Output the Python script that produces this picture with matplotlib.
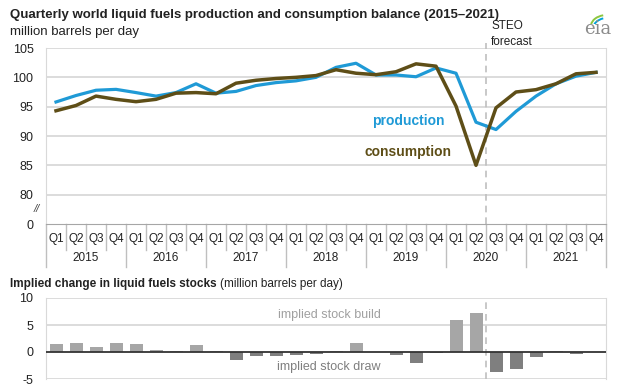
import numpy as np
import matplotlib
matplotlib.use("Agg")
import matplotlib.pyplot as plt
from matplotlib.patches import Arc

plt.rcParams['font.family'] = ['Liberation Sans', 'DejaVu Sans']
plt.rcParams['axes.unicode_minus'] = False

# data (million barrels per day)
years = ['2015', '2016', '2017', '2018', '2019', '2020', '2021']
quarters = ['Q1', 'Q2', 'Q3', 'Q4']
production = [95.8, 96.9, 97.8, 97.95, 97.4, 96.8, 97.4, 98.9,
              97.3, 97.6, 98.6, 99.1, 99.4, 100.0, 101.7, 102.4,
              100.4, 100.4, 100.1, 101.6, 100.7, 92.35, 91.1, 94.2,
              96.8, 98.9, 100.2, 100.85]
consumption = [94.3, 95.2, 96.8, 96.25, 95.85, 96.25, 97.3, 97.4,
               97.2, 99.0, 99.5, 99.8, 100.0, 100.3, 101.3, 100.7,
               100.45, 100.95, 102.3, 101.9, 95.1, 85.0, 94.8, 97.5,
               97.9, 98.9, 100.6, 100.85]
stock_change = [1.5, 1.7, 1.0, 1.7, 1.55, 0.45, 0.1, 1.35,
                0.1, -1.4, -0.8, -0.7, -0.55, -0.35, 0.25, 1.65,
                0.05, -0.55, -2.1, -0.1, 5.9, 7.2, -3.7, -3.2,
                -1.0, 0.25, -0.35, 0.05]

blue = '#1F9AD6'
brown = '#5E4E17'
grid_c = '#D9D9D9'

x = np.arange(len(production))
forecast_x = 21.5

fig = plt.figure(figsize=(6.25, 3.89), dpi=100)

fig.text(10/625, 1-15/389, 'Quarterly world liquid fuels production and consumption balance (2015\u20132021)',
         fontsize=9.5, fontweight='bold', va='center', color='#222222')
fig.text(10/625, 1-32/389, 'million barrels per day', fontsize=9.5, va='center', color='#222222')

# eia logo (rough)
fig.text(598/625, 1-29/389, 'eia', fontsize=13, family='DejaVu Serif', color='#8C8C8C',
         ha='center', va='center')
lax = fig.add_axes([588/625, 1-24/389, 20/625, 10/389])
lax.set_xlim(0, 1)
lax.set_ylim(0, 1)
lax.axis('off')
lax.add_patch(Arc((0.95, -0.2), 1.6, 2.2, theta1=100, theta2=170, color='#8DC63F', lw=1.4))
lax.add_patch(Arc((0.95, -0.5), 1.4, 2.2, theta1=100, theta2=170, color='#00A3DA', lw=1.4))

# top chart
ax1 = fig.add_axes([46/625, 1-224/389, 560/625, 176/389])
ax1.set_xlim(-0.5, 27.5)
ax1.set_ylim(75, 105)
for v in [80, 85, 90, 95, 100, 105]:
    ax1.axhline(v, color=grid_c, lw=1.3, zorder=0)
ax1.plot(x, production, color=blue, lw=2.3, zorder=3)
ax1.plot(x, consumption, color=brown, lw=2.5, zorder=4)
ax1.axvline(forecast_x, ymin=0, ymax=1.03, color='#BFBFBF', lw=1.2, ls=(0, (4, 3)), clip_on=False, zorder=1)
ax1.set_yticks([75, 80, 85, 90, 95, 100, 105])
ax1.set_yticklabels(['0', '80', '85', '90', '95', '100', '105'])
ax1.tick_params(axis='y', length=0, pad=9, labelsize=9, labelcolor='#222222')
ax1.set_xticks([])
ax1.text(-0.8, 77.6, '//', fontsize=8, style='italic', ha='right', va='center', color='#444444')
for s in ['left', 'right']:
    ax1.spines[s].set_color(grid_c)
ax1.spines['top'].set_visible(False)
ax1.spines['bottom'].set_color('#A6A6A6')

ax1.text(17.6, 92.5, 'production', color=blue, fontsize=10, fontweight='bold', ha='center', va='center')
ax1.text(17.6, 87.2, 'consumption', color=brown, fontsize=10, fontweight='bold', ha='center', va='center')
ax1.text(21.75, 105.0, 'STEO\nforecast', fontsize=8.5, ha='left', va='bottom',
         linespacing=1.45, color='#222222')

# category axis
trans = ax1.get_xaxis_transform()
for i in range(len(x)):
    ax1.text(i, -0.085, quarters[i % 4], transform=trans, ha='center', va='center',
             fontsize=8.5, color='#222222')
for k in range(len(x) + 1):
    bot = -0.245 if k % 4 == 0 else -0.148
    ax1.plot([k - 0.5, k - 0.5], [0, bot], transform=trans, color='#BFBFBF', lw=1, clip_on=False)
for j, yr in enumerate(years):
    ax1.text(4*j + 1.5, -0.195, yr, transform=trans, ha='center', va='center',
             fontsize=8.5, color='#222222')

t_bold = fig.text(10/625, 1-284/389, 'Implied change in liquid fuels stocks', fontsize=8.5,
                  fontweight='bold', va='center', color='#222222')
renderer = fig.canvas.get_renderer()
bb = t_bold.get_window_extent(renderer)
fig.text(bb.x1/fig.bbox.width + 3/625, 1-284/389, '(million barrels per day)', fontsize=8.5,
         va='center', color='#222222')

# bottom chart
ax2 = fig.add_axes([46/625, 1-379/389, 560/625, 81/389])
ax2.set_xlim(-0.5, 27.5)
ax2.set_ylim(-5, 10)
for v in [-5, 5, 10]:
    ax2.axhline(v, color=grid_c, lw=1.3, zorder=0)
colors = ['#A6A6A6' if v >= 0 else '#7F7F7F' for v in stock_change]
ax2.bar(x, stock_change, width=0.65, color=colors, zorder=2)
ax2.axhline(0, color='#333333', lw=1.3, zorder=3)
ax2.axvline(forecast_x, color='#BFBFBF', lw=1.2, ls=(0, (4, 3)), zorder=1)
ax2.set_yticks([-5, 0, 5, 10])
ax2.tick_params(axis='y', length=0, pad=9, labelsize=9, labelcolor='#222222')
ax2.set_xticks([])
for s in ['left', 'right']:
    ax2.spines[s].set_color(grid_c)
ax2.spines['top'].set_visible(False)
ax2.spines['bottom'].set_visible(False)
ax2.text(13.65, 6.9, 'implied stock build', color='#A0A0A0', fontsize=9, ha='center', va='center')
ax2.text(13.65, -2.8, 'implied stock draw', color='#7F7F7F', fontsize=9, ha='center', va='center')

fig.savefig('out.png', dpi=100)
